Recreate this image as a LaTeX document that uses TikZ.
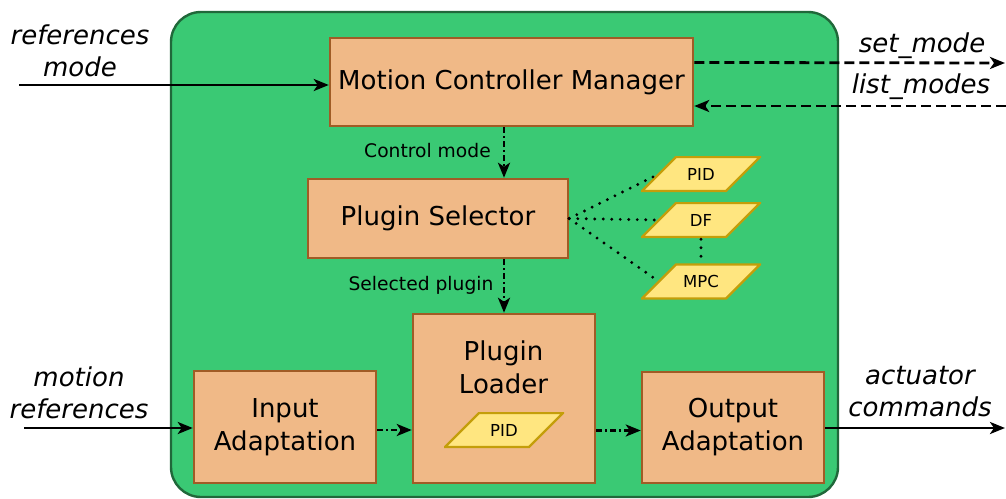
\documentclass[tikz,border=0pt]{standalone}
\usepackage{fontspec}
\setmainfont{DejaVu Sans}
\usetikzlibrary{arrows.meta,calc}

\definecolor{panelfill}{RGB}{58,201,116}
\definecolor{panelline}{RGB}{32,104,58}
\definecolor{blockfill}{RGB}{240,185,135}
\definecolor{blockline}{RGB}{160,92,38}
\definecolor{pluginfill}{RGB}{255,230,128}
\definecolor{pluginline}{RGB}{196,158,10}

\tikzset{
  block/.style={draw=blockline, fill=blockfill, line width=2.5pt, rectangle,
    inner sep=0pt, align=center, font=\fontsize{26}{33}\selectfont},
  % slanted plugin tag, drawn inside an invisible rectangle
  plugin/.style={rectangle, minimum width=120pt, minimum height=36pt, inner sep=0pt,
    font=\fontsize{16.5}{20}\selectfont,
    path picture={
      \draw[draw=pluginline, fill=pluginfill, line width=2.2pt]
        ($(path picture bounding box.south west)+(1pt,1pt)$) --
        ($(path picture bounding box.north west)+(35pt,-1pt)$) --
        ($(path picture bounding box.north east)+(-1pt,-1pt)$) --
        ($(path picture bounding box.south east)+(-35pt,1pt)$) -- cycle;
    }},
  extlabel/.style={font=\fontsize{26}{32}\selectfont\itshape, align=center, inner sep=0pt},
  smalllabel/.style={font=\fontsize{18.7}{22}\selectfont, inner sep=0pt},
  flow/.style={line width=2.8pt, -{Stealth[length=15pt, width=12pt, inset=4pt]}},
  dashflow/.style={flow, dash pattern=on 10pt off 5pt},
  dotdashflow/.style={flow, dash pattern=on 6pt off 3pt on 2pt off 3pt},
  dotlink/.style={line width=3.2pt, line cap=round, dash pattern=on 0pt off 8.5pt},
}

\begin{document}
\begin{tikzpicture}[x=1pt, y=-1pt]
\useasboundingbox (0,0) rectangle (1006,498);

% container panel
\draw[panelline, fill=panelfill, line width=2.4pt, rounded corners=30pt]
  (171,12) rectangle (838,497);

% blocks
\node[block, minimum width=363pt, minimum height=88pt] (mcm) at (511.5,82) {Motion Controller Manager};
\node[block, minimum width=260pt, minimum height=79pt] (ps) at (438,218.5) {Plugin Selector};
\node[block, minimum width=182pt, minimum height=169pt] (ld) at (504,398.5) {};
\node[block, draw=none, fill=none] (ldtext) at (503.5,367) {Plugin\\Loader};
\node[block, minimum width=182pt, minimum height=112pt] (in) at (285,427) {Input\\Adaptation};
\node[block, minimum width=182pt, minimum height=111pt] (out) at (733,427.5) {Output\\Adaptation};

% plugins
\node[plugin] (pid) at (701,174) {PID};
\node[plugin] (df) at (701,220) {DF};
\node[plugin] (mpc) at (701,281.5) {MPC};
\node[plugin] (pidload) at (504,430) {PID};
\coordinate (pid-w) at ($(pid.west)+(18pt,0pt)$);
\coordinate (df-w) at ($(df.west)+(18pt,0pt)$);
\coordinate (mpc-w) at ($(mpc.west)+(18pt,0pt)$);

% plugin selector choices
\draw[dotlink] (ps.east) -- (pid-w);
\draw[dotlink] (ps.east) -- (df-w);
\draw[dotlink] (ps.east) -- (mpc-w);
\draw[dotlink] ($(df.south)+(0pt,-1pt)$) -- ($(mpc.north)+(0pt,1pt)$);

% external ends
\coordinate (refin) at (19,85);
\coordinate (setout) at (1005,63);
\coordinate (listin) at (1006,106);
\coordinate (motin) at (24,428);
\coordinate (actout) at (1005,428);

% connectors
\draw[flow] (refin) -- (refin -| mcm.west);
\draw[dashflow] ($(mcm.north east)!0.284!(mcm.south east)$) -- (setout);
\draw[dashflow] (listin) -- (listin -| mcm.east);
\draw[dotdashflow] (mcm.south -| ld.north) -- (ps.north -| ld.north);
\draw[dotdashflow] (ps.south -| ld.north) -- (ld.north);
\draw[flow] (motin) -- (motin -| in.west);
\draw[dotdashflow] ($(in.east)+(0,3)$) -- ($(in.east -| ld.west)+(0,3)$);
\draw[dotdashflow] ($(out.west -| ld.east)+(0,3)$) -- ($(out.west)+(0,3)$);
\draw[flow] (actout -| out.east) -- (actout);

% labels
\node[extlabel] (lblref) at (80,51) {references\\mode};
\node[extlabel, anchor=base] (lblset) at (922,52) {set\_mode};
\node[extlabel, anchor=base] (lbllist) at (921,93) {list\_modes};
\node[extlabel] (lblmot) at (79,393) {motion\\references};
\node[extlabel] (lblact) at (920,392) {actuator\\commands};
\node[smalllabel, anchor=base] (lblctl) at (427.5,157) {Control mode};
\node[smalllabel, anchor=base] (lblsel) at (421,290) {Selected plugin};
\end{tikzpicture}
\end{document}
